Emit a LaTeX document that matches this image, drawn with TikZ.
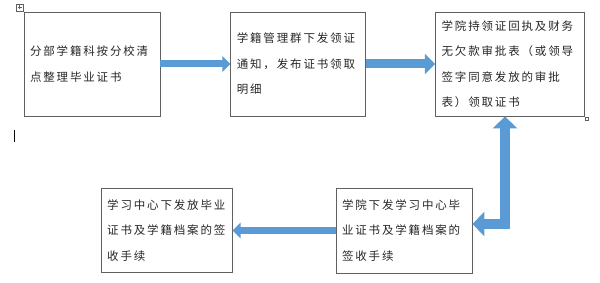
\documentclass[tikz,border=0pt]{standalone}
\usepackage{fontspec}
\newfontfamily\cjk[LetterSpace=16]{Noto Sans CJK SC}
\usetikzlibrary{arrows.meta, positioning}
\definecolor{flowblue}{RGB}{91, 155, 213}
\definecolor{boxline}{RGB}{96, 96, 96}

\begin{document}
\begin{tikzpicture}[
    x=1pt, y=-1pt,
    box/.style={draw=boxline, line width=0.8pt, text width=#1, inner xsep=6pt,
                inner ysep=0pt, align=left, text=black!85,
                font=\cjk\fontsize{11.5}{25.5}\selectfont},
    bigarr/.style={draw=flowblue, line width=#1, line join=miter,
                   -{Triangle[width=0pt 2.2, length=0pt 1.15]}},
    bigarr/.default=7pt
]
    \useasboundingbox (0,0) rectangle (600,283);

    % top row
    \node[box=124pt, minimum height=104pt] (fenbu) at (92,64)
        {分部学籍科按分校清\\点整理毕业证书};
    \node[box=123pt, minimum height=104pt, right=70pt of fenbu] (xiafa)
        {学籍管理群下发领证\\通知，发布证书领取\\明细};
    \node[box=137pt, minimum height=104pt, right=69pt of xiafa] (lingqu)
        {学院持领证回执及财务\\无欠款审批表（或领导\\签字同意发放的审批\\表）领取证书};

    % bottom row
    \node[box=124pt, minimum height=85pt] (xueyuan) at (404,230.5)
        {学院下发学习中心毕\\业证书及学籍档案的\\签收手续};
    \node[box=119pt, minimum height=84pt, left=103pt of xueyuan] (zhongxin)
        {学习中心下发放毕业\\证书及学籍档案的签\\收手续};

    \coordinate (bend) at (505,224);

    \draw[bigarr] (fenbu) -- (xiafa);
    \draw[bigarr=9pt] (xiafa) -- (lingqu);
    \draw[bigarr=10pt, {Triangle[width=0pt 2.4, length=0pt 1.2]}-{Triangle[width=0pt 2.4, length=0pt 1.2]}]
        (xueyuan.east |- bend) -| (lingqu.south -| bend);
    \draw[bigarr] (xueyuan) -- (zhongxin);

    % editor marks
    \draw[boxline, line width=0.5pt] (16,4) rectangle (23,11);
    \draw[boxline, line width=0.4pt] (17.5,7.5) -- (21.5,7.5) (19.5,5.5) -- (19.5,9.5);
    \draw[boxline, line width=0.4pt] (585,117) rectangle (588,120);
    \draw[black, line width=0.6pt] (14,130) -- (14,142);
\end{tikzpicture}
\end{document}
